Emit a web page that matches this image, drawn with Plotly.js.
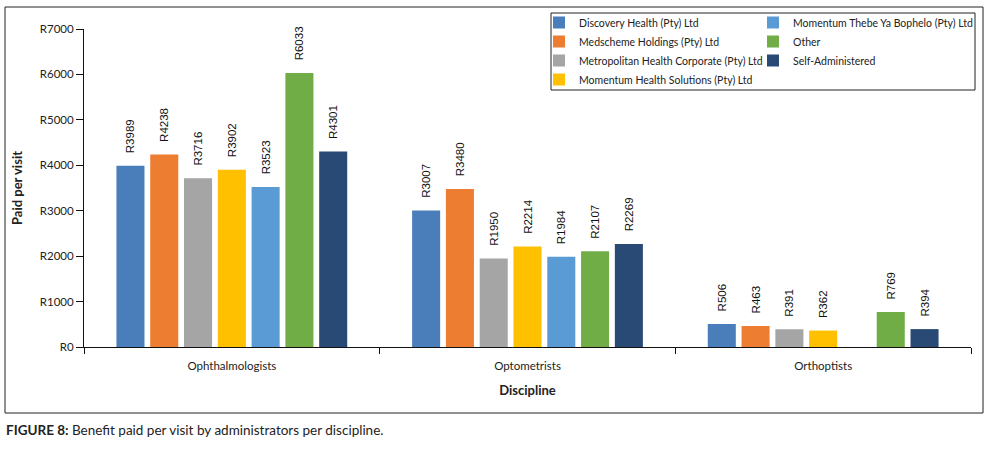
<!DOCTYPE html>
<html>
<head>
<meta charset="utf-8">
<script src="https://cdn.plot.ly/plotly-3.0.1.min.js"></script>
<style>html,body{margin:0;padding:0;background:#fff;}#chart{width:993px;height:455px;}</style>
</head>
<body>
<div id="chart"></div>
<script>
var categories = ['Ophthalmologists', 'Optometrists', 'Orthoptists'];
var seriesNames = [
  'Discovery Health (Pty) Ltd',
  'Medscheme Holdings (Pty) Ltd',
  'Metropolitan Health Corporate (Pty) Ltd',
  'Momentum Health Solutions (Pty) Ltd',
  'Momentum Thebe Ya Bophelo (Pty) Ltd',
  'Other',
  'Self-Administered'
];
var discovery = [3989, 3007, 506];
var medscheme = [4238, 3480, 463];
var metropolitan = [3716, 1950, 391];
var momentumHealth = [3902, 2214, 362];
var momentumThebe = [3523, 1984, null];
var other = [6033, 2107, 769];
var selfAdministered = [4301, 2269, 394];
var yTickValues = [0, 1000, 2000, 3000, 4000, 5000, 6000, 7000];
var yTickLabels = ['R0', 'R1000', 'R2000', 'R3000', 'R4000', 'R5000', 'R6000', 'R7000'];

var seriesValues = [discovery, medscheme, metropolitan, momentumHealth, momentumThebe, other, selfAdministered];
var colors = ['#4a7ebb', '#ed7d31', '#a5a5a5', '#ffc000', '#5b9bd5', '#70ad47', '#284a74'];
var legendOf = ['legend', 'legend', 'legend', 'legend', 'legend2', 'legend2', 'legend2'];

var L = 84, T = 29, W = 887, H = 318;
function px(x) { return (x - L) / W; }
function py(y) { return (T + H - y) / H; }

var traces = seriesNames.map(function (name, i) {
  return {
    type: 'bar',
    name: name,
    x: categories,
    y: seriesValues[i],
    legend: legendOf[i],
    marker: { color: colors[i] },
    texttemplate: '\u00a0\u00a0\u00a0R%{y}',
    textposition: 'outside',
    textangle: -90,
    constraintext: 'none',
    cliponaxis: false,
    textfont: { family: 'Liberation Sans, Arial, sans-serif', size: 11.5, color: '#111' },
    hoverinfo: 'x+y+name'
  };
});

var legendFont = { family: 'Lato, sans-serif', size: 10.5, color: '#222' };

var layout = {
  width: 993,
  height: 455,
  margin: { l: L, r: 993 - L - W, t: T, b: 455 - T - H, autoexpand: false },
  paper_bgcolor: '#fff',
  plot_bgcolor: '#fff',
  barmode: 'group',
  bargap: 0.2,
  bargroupgap: 0.17,
  showlegend: true,
  font: { family: 'Lato, sans-serif', color: '#222' },
  xaxis: {
    type: 'category',
    showline: true,
    linecolor: '#111',
    linewidth: 1,
    ticks: 'outside',
    tickson: 'boundaries',
    ticklen: 6,
    tickcolor: '#111',
    ticklabelstandoff: 8,
    tickfont: { family: 'Lato, sans-serif', size: 11.5, color: '#222' },
    showgrid: false,
    zeroline: false,
    title: { text: '<b>Discipline</b>', font: { family: 'Lato, sans-serif', size: 13, color: '#222' }, standoff: 15 },
    automargin: false
  },
  yaxis: {
    range: [0, 7000],
    tickvals: yTickValues,
    ticktext: yTickLabels,
    showline: true,
    linecolor: '#111',
    linewidth: 1,
    ticks: 'outside',
    ticklen: 7,
    tickcolor: '#111',
    tickfont: { family: 'Lato, sans-serif', size: 11.5, color: '#222' },
    showgrid: false,
    zeroline: false,
    title: { text: '<b>Paid per visit</b>', font: { family: 'Lato, sans-serif', size: 13, color: '#222' }, standoff: 14 },
    automargin: false
  },
  legend: {
    x: px(539), y: py(8), xanchor: 'left', yanchor: 'top',
    orientation: 'v', bgcolor: 'rgba(0,0,0,0)', borderwidth: 0,
    font: legendFont, traceorder: 'normal'
  },
  legend2: {
    x: px(753), y: py(8), xanchor: 'left', yanchor: 'top',
    orientation: 'v', bgcolor: 'rgba(0,0,0,0)', borderwidth: 0,
    font: legendFont, traceorder: 'normal'
  },
  shapes: [
    { type: 'rect', xref: 'paper', yref: 'paper', x0: px(5), x1: px(983), y0: py(413), y1: py(7),
      line: { color: '#222', width: 1 }, fillcolor: 'rgba(0,0,0,0)', layer: 'below' },
    { type: 'rect', xref: 'paper', yref: 'paper', x0: px(551), x1: px(975), y0: py(90), y1: py(13),
      line: { color: '#222', width: 1 }, fillcolor: 'rgba(0,0,0,0)', layer: 'above' }
  ],
  annotations: [
    { xref: 'paper', yref: 'paper', x: px(4), y: py(430), xanchor: 'left', yanchor: 'middle',
      showarrow: false, text: '<b>FIGURE 8:</b> Benefit paid per visit by administrators per discipline.',
      font: { family: 'Lato, sans-serif', size: 13.5, color: '#222' } }
  ]
};

Plotly.newPlot('chart', traces, layout, { displayModeBar: false, staticPlot: true });
</script>
</body>
</html>
